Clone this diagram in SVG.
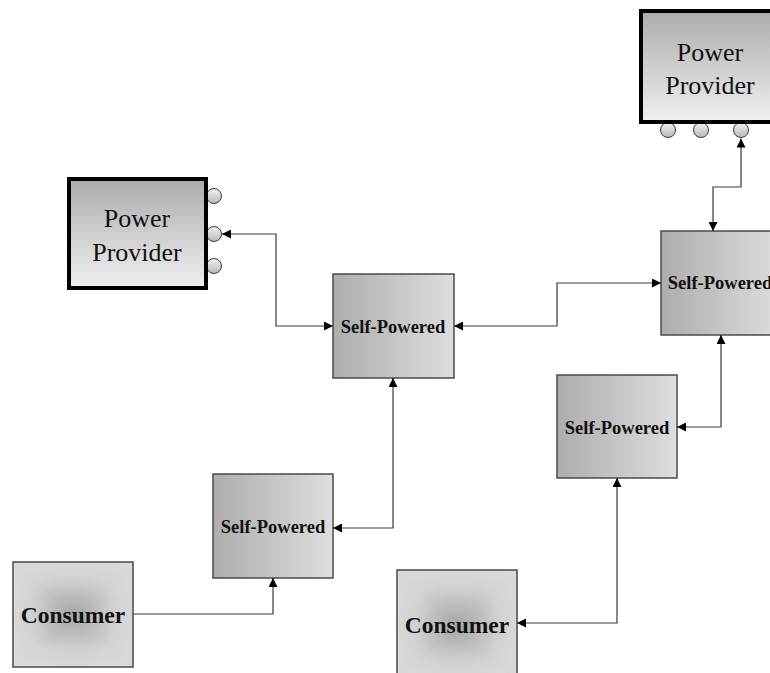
<svg xmlns="http://www.w3.org/2000/svg" width="770" height="673" viewBox="0 0 770 673">
<defs>
<linearGradient id="gSP" x1="0" y1="0" x2="1" y2="0">
<stop offset="0" stop-color="#adadad"/>
<stop offset="1" stop-color="#dedede"/>
</linearGradient>
<linearGradient id="gPP" x1="0" y1="0" x2="0" y2="1">
<stop offset="0" stop-color="#acacac"/>
<stop offset="1" stop-color="#f0f0f0"/>
</linearGradient>
<linearGradient id="cT" x1="0" y1="0" x2="0" y2="1">
<stop offset="0" stop-color="#dadada"/>
<stop offset="0.35" stop-color="#d4d4d4"/>
<stop offset="1" stop-color="#a6a6a6"/>
</linearGradient>
<linearGradient id="cB" x1="0" y1="1" x2="0" y2="0">
<stop offset="0" stop-color="#dadada"/>
<stop offset="0.35" stop-color="#d4d4d4"/>
<stop offset="1" stop-color="#a6a6a6"/>
</linearGradient>
<linearGradient id="cL" x1="0" y1="0" x2="1" y2="0">
<stop offset="0" stop-color="#dadada"/>
<stop offset="0.35" stop-color="#d4d4d4"/>
<stop offset="1" stop-color="#a6a6a6"/>
</linearGradient>
<linearGradient id="cR" x1="1" y1="0" x2="0" y2="0">
<stop offset="0" stop-color="#dadada"/>
<stop offset="0.35" stop-color="#d4d4d4"/>
<stop offset="1" stop-color="#a6a6a6"/>
</linearGradient>
<radialGradient id="cRad" cx="0.5" cy="0.5" r="0.6">
<stop offset="0" stop-color="#a6a6a6"/>
<stop offset="0.7" stop-color="#d4d4d4"/>
<stop offset="1" stop-color="#dadada"/>
</radialGradient>
<linearGradient id="gPort" x1="0" y1="0" x2="0" y2="1">
<stop offset="0" stop-color="#f2f2f2"/>
<stop offset="1" stop-color="#b8b8b8"/>
</linearGradient>
<marker id="arr" viewBox="0 0 10 10" refX="10" refY="5" markerWidth="9" markerHeight="9" markerUnits="userSpaceOnUse" orient="auto-start-reverse">
<path d="M0,0 L10,5 L0,10 z" fill="#000"/>
</marker>
<style>
.sp{fill:url(#gSP);stroke:#4a4a4a;stroke-width:1.5}
.pp{fill:url(#gPP);stroke:#000;stroke-width:4}
.cbox{fill:none;stroke:#4a4a4a;stroke-width:1.5}
.soft{fill:url(#cRad);opacity:0.5}
.port{fill:url(#gPort);stroke:#3a3a3a;stroke-width:1}
text{font-family:"Liberation Serif","Times New Roman",Times,serif;fill:#111;text-anchor:middle}
.spt{font-weight:bold;font-size:18.5px}
.ppt{font-size:26px}
.cont{font-weight:bold;font-size:23.5px}
.ln{fill:none;stroke:#3a3a3a;stroke-width:1.2}
</style>
</defs>
<rect width="770" height="673" fill="#fff"/>

<g id="pp-top">
<circle class="port" cx="668" cy="130" r="7.5"/>
<circle class="port" cx="701" cy="130" r="7.5"/>
<circle class="port" cx="741" cy="130" r="7.5"/>
<rect class="pp" x="641" y="11" width="140" height="111"/>
<text class="ppt" x="710" y="61">Power</text>
<text class="ppt" x="710" y="94">Provider</text>
</g>

<g id="pp-left">
<circle class="port" cx="214" cy="196" r="7.5"/>
<circle class="port" cx="214" cy="234" r="7.5"/>
<circle class="port" cx="214" cy="266" r="7.5"/>
<rect class="pp" x="69" y="179" width="137" height="109"/>
<text class="ppt" x="137" y="227">Power</text>
<text class="ppt" x="137" y="261">Provider</text>
</g>

<g id="sp-mid">
<rect class="sp" x="333" y="274" width="121" height="104"/>
<text class="spt" x="393" y="333">Self-Powered</text>
</g>

<g id="sp-right">
<rect class="sp" x="661" y="231" width="121" height="104"/>
<text class="spt" x="720" y="289">Self-Powered</text>
</g>

<g id="sp-lowright">
<rect class="sp" x="557" y="375" width="120" height="103"/>
<text class="spt" x="617" y="434">Self-Powered</text>
</g>

<g id="sp-lowleft">
<rect class="sp" x="213" y="474" width="120" height="104"/>
<text class="spt" x="273" y="533">Self-Powered</text>
</g>

<g id="consumer-left">
<rect x="13" y="562" width="120" height="105" fill="#c4c4c4"/>
<polygon points="13,562 133,562 73,614.5" fill="url(#cT)"/>
<polygon points="13,667 133,667 73,614.5" fill="url(#cB)"/>
<polygon points="13,562 13,667 73,614.5" fill="url(#cL)"/>
<polygon points="133,562 133,667 73,614.5" fill="url(#cR)"/>
<rect class="soft" x="13" y="562" width="120" height="105"/>
<rect class="cbox" x="13" y="562" width="120" height="105"/>
<text class="cont" x="73" y="623">Consumer</text>
</g>

<g id="consumer-right">
<rect x="397" y="570" width="120" height="110" fill="#c4c4c4"/>
<polygon points="397,570 517,570 457,625" fill="url(#cT)"/>
<polygon points="397,680 517,680 457,625" fill="url(#cB)"/>
<polygon points="397,570 397,680 457,625" fill="url(#cL)"/>
<polygon points="517,570 517,680 457,625" fill="url(#cR)"/>
<rect class="soft" x="397" y="570" width="120" height="110"/>
<rect class="cbox" x="397" y="570" width="120" height="110"/>
<text class="cont" x="457" y="633">Consumer</text>
</g>

<g id="connectors">
<polyline class="ln" points="222,234 276,234 276,326 333,326" marker-start="url(#arr)" marker-end="url(#arr)"/>
<polyline class="ln" points="454,326 557,326 557,283 661,283" marker-start="url(#arr)" marker-end="url(#arr)"/>
<polyline class="ln" points="741,138.5 741,187 713,187 713,231" marker-start="url(#arr)" marker-end="url(#arr)"/>
<polyline class="ln" points="721,335 721,427 677,427" marker-start="url(#arr)" marker-end="url(#arr)"/>
<polyline class="ln" points="617,478 617,623 517,623" marker-start="url(#arr)" marker-end="url(#arr)"/>
<polyline class="ln" points="393,378 393,528 333,528" marker-start="url(#arr)" marker-end="url(#arr)"/>
<polyline class="ln" points="133,614 273,614 273,578" marker-end="url(#arr)"/>
</g>
</svg>
